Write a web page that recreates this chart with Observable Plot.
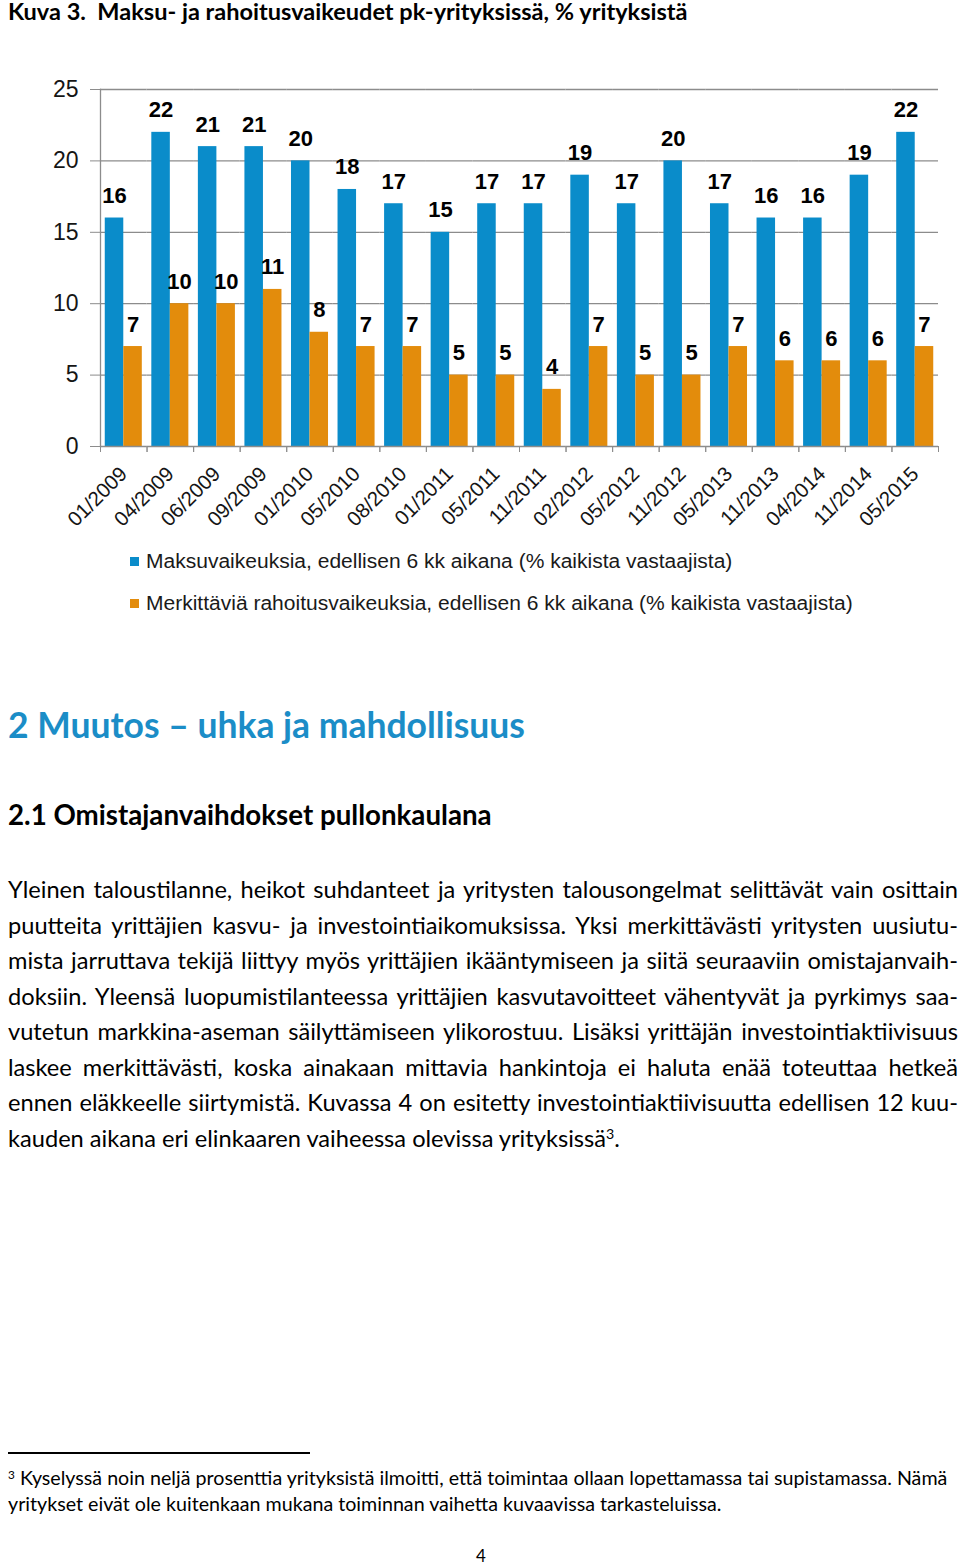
<!DOCTYPE html>
<html><head><meta charset="utf-8">
<script src="https://cdn.jsdelivr.net/npm/d3@7"></script>
<script src="https://cdn.jsdelivr.net/npm/@observablehq/plot@0.6"></script>
<style>
body{margin:0;background:#fff;width:960px;height:1567px;position:relative;overflow:hidden;font-family:Lato,"Open Sans",sans-serif;color:#000}
.abs{position:absolute;white-space:nowrap}
.legend{font-family:"Liberation Sans",Arial,sans-serif;color:#1a1a1a;display:flex;align-items:center}
.sw{display:inline-block;width:9px;height:9px;margin-right:7px}
.pline{position:absolute;left:8px;width:950px;white-space:nowrap;text-align:justify;text-align-last:justify}
.pline.last{text-align:left;text-align-last:left}
sup{font-size:0.6em;vertical-align:0.55em;line-height:0}
</style></head><body>
<div id="title" class="abs fit" data-w="680" style="left:8px;top:-3px;font-weight:bold;font-size:21px;line-height:28px">Kuva 3.&nbsp; Maksu- ja rahoitusvaikeudet pk-yrityksissä, % yrityksistä</div>
<div id="chart" style="position:absolute;left:0;top:40px"></div>
<div id="leg1" class="abs legend" style="left:130px;top:548px;height:26px"></div>
<div id="leg2" class="abs legend" style="left:130px;top:590px;height:26px"></div>
<div class="abs fit" data-w="517" style="left:8px;top:703px;font-weight:bold;font-size:30px;line-height:44px;color:#1b8dc7">2 Muutos – uhka ja mahdollisuus</div>
<div class="abs fit" data-w="484" style="left:8px;top:799px;font-weight:bold;font-size:23px;line-height:32px">2.1 Omistajanvaihdokset pullonkaulana</div>
<div id="para"></div>
<div class="abs" style="left:8px;top:1452px;width:302px;height:1.5px;background:#000"></div>
<div class="abs" id="fn1" style="left:8px;top:1466px;font-size:17px;line-height:24px"><sup>3</sup> <span>Kyselyssä noin neljä prosenttia yrityksistä ilmoitti, että toimintaa ollaan lopettamassa tai supistamassa. Nämä</span></div>
<div class="abs" id="fn2" style="left:8px;top:1492px;font-size:17px;line-height:24px">yritykset eivät ole kuitenkaan mukana toiminnan vaihetta kuvaavissa tarkasteluissa.</div>
<div class="abs" style="left:476px;top:1544px;font-size:17px;line-height:24px">4</div>
<script>
// ---- data ----
const categories = ["01/2009","04/2009","06/2009","09/2009","01/2010","05/2010","08/2010","01/2011","05/2011","11/2011","02/2012","05/2012","11/2012","05/2013","11/2013","04/2014","11/2014","05/2015"];
const maksuvaikeuksia = [16,22,21,21,20,18,17,15,17,17,19,17,20,17,16,16,19,22];
const rahoitusvaikeuksia = [7,10,10,11,8,7,7,5,5,4,7,5,5,7,6,6,6,7];
const seriesNames = ["Maksuvaikeuksia, edellisen 6 kk aikana (% kaikista vastaajista)",
                     "Merkittäviä rahoitusvaikeuksia, edellisen 6 kk aikana (% kaikista vastaajista)"];
const yTicks = [0,5,10,15,20,25];
const colors = ["#0a8cca","#e38c0c"];
const paragraphLines = [
 "Yleinen taloustilanne, heikot suhdanteet ja yritysten talousongelmat selittävät vain osittain",
 "puutteita yrittäjien kasvu- ja investointiaikomuksissa. Yksi merkittävästi yritysten uusiutu-",
 "mista jarruttava tekijä liittyy myös yrittäjien ikääntymiseen ja siitä seuraaviin omistajanvaih-",
 "doksiin. Yleensä luopumistilanteessa yrittäjien kasvutavoitteet vähentyvät ja pyrkimys saa-",
 "vutetun markkina-aseman säilyttämiseen ylikorostuu. Lisäksi yrittäjän investointiaktiivisuus",
 "laskee merkittävästi, koska ainakaan mittavia hankintoja ei haluta enää toteuttaa hetkeä",
 "ennen eläkkeelle siirtymistä. Kuvassa 4 on esitetty investointiaktiivisuutta edellisen 12 kuu-",
 "kauden aikana eri elinkaaren vaiheessa olevissa yrityksissä"
];

const rows = categories.flatMap((c, i) => [
  {cat: c, series: seriesNames[0], value: maksuvaikeuksia[i]},
  {cat: c, series: seriesNames[1], value: rahoitusvaikeuksia[i]}
]);

const W = 960, H = 500, mL = 100, mR = 22, mT = 49, mB = 94;
const step = (W - mL - mR) / categories.length;
const axisGray = "#8c8c8c";

const chart = Plot.plot({
  width: W, height: H,
  marginLeft: mL, marginRight: mR, marginTop: mT, marginBottom: mB,
  style: {fontFamily: "'Liberation Sans', Arial, sans-serif", background: "transparent", color: "#151515"},
  fx: {domain: categories, padding: 0, round: false, label: null},
  x: {domain: seriesNames, paddingInner: 0, paddingOuter: 0.257, round: false, axis: null},
  y: {domain: [0, 25], label: null},
  color: {domain: seriesNames, range: colors},
  marks: [
    Plot.gridY(yTicks.slice(1), {stroke: axisGray, strokeOpacity: 1, strokeWidth: 1.3}),
    Plot.axisY(yTicks, {tickSize: 10, tickPadding: 12, fontSize: 23, label: null, stroke: axisGray, fill: "#151515"}),
    Plot.frame({anchor: "left", facetAnchor: "left", stroke: axisGray, strokeWidth: 1.3}),
    Plot.barY(rows, {fx: "cat", x: "series", y: "value", fill: "series"}),
    Plot.ruleY([0], {stroke: axisGray, strokeWidth: 1.3}),
    Plot.text(rows, {fx: "cat", x: "series", y: "value", text: d => String(d.value), dy: -15, lineAnchor: "bottom", fontSize: 22, fontWeight: "bold", fill: "#000"}),
    Plot.axisFx({anchor: "bottom", tickSize: 0, tickRotate: -45, tickPadding: 24, fontSize: 20.5, label: null, fill: "#151515"}),
    Plot.axisFx({anchor: "bottom", tickSize: 6, tickFormat: () => "", dx: -step / 2, label: null, stroke: axisGray}),
    Plot.axisFx([categories[categories.length - 1]], {anchor: "bottom", tickSize: 6, tickFormat: () => "", dx: step / 2, label: null, stroke: axisGray})
  ]
});
document.getElementById("chart").appendChild(chart);

// legend
[["leg1", 0, 587], ["leg2", 1, 707]].forEach(([id, k, w]) => {
  const el = document.getElementById(id);
  el.innerHTML = `<span class="sw" style="background:${colors[k]}"></span><span class="fit" data-w="${w}" style="font-size:20px">${seriesNames[k]}</span>`;
});

// paragraph
const para = document.getElementById("para");
paragraphLines.forEach((t, i) => {
  const d = document.createElement("div");
  d.className = "pline" + (i === paragraphLines.length - 1 ? " last" : "");
  d.style.top = (871 + i * 35.5) + "px";
  d.style.lineHeight = "36px";
  d.innerHTML = i === paragraphLines.length - 1 ? `<span id="plast">${t}<sup>3</sup>.</span>` : t;
  para.appendChild(d);
});

// fit helpers
function fit(el, target) {
  const fs = parseFloat(getComputedStyle(el).fontSize);
  const w = el.getBoundingClientRect().width;
  if (w > 0) el.style.fontSize = (fs * target / w) + "px";
}
document.querySelectorAll(".fit").forEach(el => fit(el, +el.dataset.w));
// paragraph font size from last (unjustified) line: natural width 612
{
  const pl = document.getElementById("plast");
  const lines = para.querySelectorAll(".pline");
  lines.forEach(l => l.style.fontSize = "20px");
  const w = pl.getBoundingClientRect().width;
  const fs = 20 * 612 / w;
  lines.forEach(l => l.style.fontSize = fs + "px");
}
// footnote size from second line: natural width 714
{
  const f2 = document.getElementById("fn2");
  const f1 = document.getElementById("fn1");
  const w = f2.getBoundingClientRect().width;
  const fs = 17 * 714 / w;
  f1.style.fontSize = fs + "px"; f2.style.fontSize = fs + "px";
}
</script>
</body></html>
